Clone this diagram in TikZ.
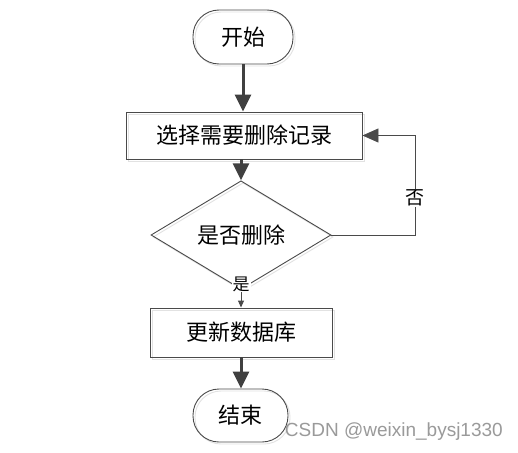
\documentclass[tikz,border=0pt]{standalone}
\usepackage{fontspec}
\newfontfamily\cjk{Noto Sans CJK SC}
\setsansfont{Liberation Sans}
\usetikzlibrary{shapes.geometric,arrows.meta,shadows}
\definecolor{linec}{HTML}{4A4A4A}
\definecolor{arrowc}{HTML}{404040}
\definecolor{ghost}{HTML}{E2E2E2}
\definecolor{wmc}{HTML}{9A9A9A}
\tikzset{
  base/.style={draw=linec, line width=0.9pt, text=black, inner sep=0pt,
    font=\cjk\fontsize{22}{26}\selectfont,
    general shadow={draw=ghost, fill=none, line width=0.9pt, shadow xshift=2pt, shadow yshift=-2pt}},
  term/.style={base, rectangle, rounded corners=26pt, minimum width=100pt, minimum height=54pt},
  proc/.style={base, rectangle},
  dec/.style={base, diamond, minimum width=180pt, minimum height=60pt},
  thickarrow/.style={draw=arrowc, line width=3pt, -{Triangle[length=17pt,width=16pt]}},
  thinline/.style={draw=linec, line width=0.9pt},
  lbl/.style={fill=white, inner sep=1pt, text=black}
}
\begin{document}
\begin{tikzpicture}[x=1pt,y=-1pt]
\path[fill=white] (0,0) rectangle (518,452);
\useasboundingbox (0,0) rectangle (518,452);
\node[term] (start) at (243,37) {开始};
\node[proc, minimum width=236pt, minimum height=47pt] (sel) at (244,135.5) {选择需要删除记录};
\node[dec] (dec) at (241,235) {是否删除};
\node[proc, minimum width=182pt, minimum height=49pt] (upd) at (241,332.5) {更新数据库};
\node[term, minimum width=95pt, minimum height=53pt] (end) at (240.5,415.5) {结束};
\coordinate (fb) at (415,135.5);
\draw[thickarrow] (start.south) -- (start.south |- sel.north);
\draw[thickarrow] (dec.north |- sel.south) -- (dec.north);
\draw[thinline, -{Triangle[length=16pt,width=14pt]}] (dec.east) -| (fb) -- (sel.east);
\node[lbl, font=\cjk\fontsize{19}{21}\selectfont] (no) at (415,198) {否};
\draw[thinline, -{Triangle[length=7pt,width=6pt]}] (dec.south) -- (upd.north);
\node[lbl, font=\cjk\fontsize{17}{19}\selectfont] (yes) at (241,284) {是};
\draw[thickarrow] (upd.south) -- (upd.south |- end.north);
\node[anchor=east, font=\sffamily\fontsize{19}{21}\selectfont, text=wmc, inner sep=0pt] (wm) at (503,432) {CSDN @weixin\_bysj1330};
\end{tikzpicture}
\end{document}
